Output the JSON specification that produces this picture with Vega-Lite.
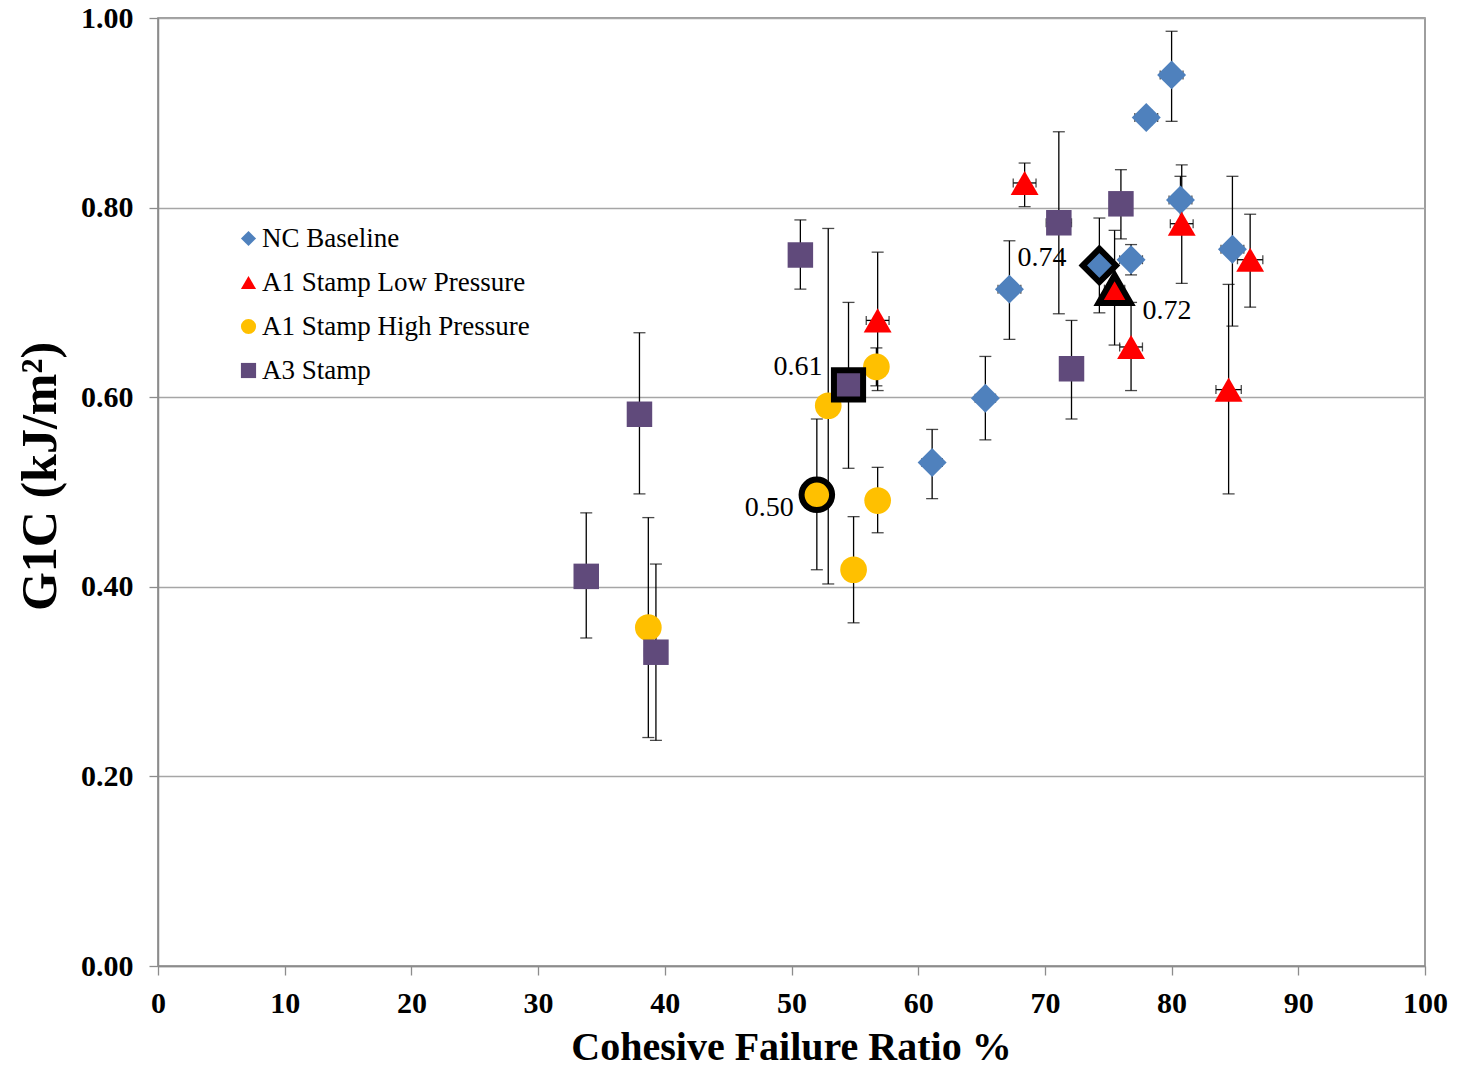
{
  "$schema": "https://vega.github.io/schema/vega-lite/v6.json",
  "width": 1267,
  "height": 948,
  "autosize": {"type": "none"},
  "padding": {"left": 158, "top": 18, "right": 33, "bottom": 104},
  "background": "white",
  "config": {
    "font": "Liberation Serif",
    "view": {"stroke": "#7f7f7f", "strokeWidth": 1.5},
    "axis": {
      "labelFont": "Liberation Serif",
      "labelFontWeight": "bold",
      "labelFontSize": 30,
      "labelColor": "black",
      "labelFlush": false,
      "titleFont": "Liberation Serif",
      "titleFontWeight": "bold",
      "titleColor": "black",
      "tickColor": "#8c8c8c",
      "domainColor": "#8c8c8c",
      "domainWidth": 1.5,
      "tickSize": 9,
      "tickWidth": 1.3
    }
  },
  "data": {
    "values": [
      {"s": "NC Baseline", "x": 80.0, "y": 0.940, "ylo": 0.891, "yhi": 0.986, "xlo": 79.1, "xhi": 80.9, "hl": 0, "lab": ""},
      {"s": "NC Baseline", "x": 78.0, "y": 0.895, "ylo": 0.887, "yhi": 0.903, "xlo": 77.1, "xhi": 78.9, "hl": 0, "lab": ""},
      {"s": "NC Baseline", "x": 80.7, "y": 0.808, "ylo": 0.783, "yhi": 0.833, "xlo": 79.8, "xhi": 81.6, "hl": 0, "lab": ""},
      {"s": "NC Baseline", "x": 84.8, "y": 0.756, "ylo": 0.675, "yhi": 0.833, "xlo": 83.9, "xhi": 85.7, "hl": 0, "lab": ""},
      {"s": "NC Baseline", "x": 76.8, "y": 0.745, "ylo": 0.729, "yhi": 0.761, "xlo": 75.9, "xhi": 77.7, "hl": 0, "lab": ""},
      {"s": "NC Baseline", "x": 74.3, "y": 0.739, "ylo": 0.689, "yhi": 0.789, "xlo": 73.5, "xhi": 75.1, "hl": 1, "lab": "0.74"},
      {"s": "NC Baseline", "x": 67.2, "y": 0.714, "ylo": 0.661, "yhi": 0.765, "xlo": 66.3, "xhi": 68.1, "hl": 0, "lab": ""},
      {"s": "NC Baseline", "x": 65.3, "y": 0.599, "ylo": 0.555, "yhi": 0.643, "xlo": 64.5, "xhi": 66.1, "hl": 0, "lab": ""},
      {"s": "NC Baseline", "x": 61.1, "y": 0.531, "ylo": 0.493, "yhi": 0.566, "xlo": 60.3, "xhi": 61.9, "hl": 0, "lab": ""},
      {"s": "A1 Stamp Low Pressure", "x": 68.4, "y": 0.826, "ylo": 0.801, "yhi": 0.847, "xlo": 67.5, "xhi": 69.3, "hl": 0, "lab": ""},
      {"s": "A1 Stamp Low Pressure", "x": 80.8, "y": 0.783, "ylo": 0.720, "yhi": 0.845, "xlo": 79.9, "xhi": 81.7, "hl": 0, "lab": ""},
      {"s": "A1 Stamp Low Pressure", "x": 86.2, "y": 0.745, "ylo": 0.695, "yhi": 0.793, "xlo": 85.2, "xhi": 87.2, "hl": 0, "lab": ""},
      {"s": "A1 Stamp Low Pressure", "x": 75.5, "y": 0.714, "ylo": 0.655, "yhi": 0.776, "xlo": 74.7, "xhi": 76.3, "hl": 1, "lab": "0.72"},
      {"s": "A1 Stamp Low Pressure", "x": 76.8, "y": 0.653, "ylo": 0.607, "yhi": 0.700, "xlo": 75.9, "xhi": 77.7, "hl": 0, "lab": ""},
      {"s": "A1 Stamp Low Pressure", "x": 56.8, "y": 0.681, "ylo": 0.607, "yhi": 0.753, "xlo": 55.9, "xhi": 57.7, "hl": 0, "lab": ""},
      {"s": "A1 Stamp Low Pressure", "x": 84.5, "y": 0.608, "ylo": 0.498, "yhi": 0.719, "xlo": 83.5, "xhi": 85.5, "hl": 0, "lab": ""},
      {"s": "A1 Stamp High Pressure", "x": 56.7, "y": 0.632, "ylo": 0.612, "yhi": 0.652, "xlo": 55.9, "xhi": 57.5, "hl": 0, "lab": ""},
      {"s": "A1 Stamp High Pressure", "x": 52.9, "y": 0.591, "ylo": 0.403, "yhi": 0.778, "xlo": 52.1, "xhi": 53.7, "hl": 0, "lab": ""},
      {"s": "A1 Stamp High Pressure", "x": 52.0, "y": 0.497, "ylo": 0.418, "yhi": 0.577, "xlo": 51.2, "xhi": 52.8, "hl": 1, "lab": "0.50"},
      {"s": "A1 Stamp High Pressure", "x": 56.8, "y": 0.491, "ylo": 0.457, "yhi": 0.526, "xlo": 56.0, "xhi": 57.6, "hl": 0, "lab": ""},
      {"s": "A1 Stamp High Pressure", "x": 54.9, "y": 0.418, "ylo": 0.362, "yhi": 0.474, "xlo": 54.1, "xhi": 55.7, "hl": 0, "lab": ""},
      {"s": "A1 Stamp High Pressure", "x": 38.7, "y": 0.357, "ylo": 0.241, "yhi": 0.473, "xlo": 37.9, "xhi": 39.5, "hl": 0, "lab": ""},
      {"s": "A3 Stamp", "x": 50.7, "y": 0.750, "ylo": 0.714, "yhi": 0.787, "xlo": 49.8, "xhi": 51.6, "hl": 0, "lab": ""},
      {"s": "A3 Stamp", "x": 71.1, "y": 0.784, "ylo": 0.688, "yhi": 0.880, "xlo": 70.1, "xhi": 72.1, "hl": 0, "lab": ""},
      {"s": "A3 Stamp", "x": 76.0, "y": 0.804, "ylo": 0.767, "yhi": 0.840, "xlo": 75.1, "xhi": 76.9, "hl": 0, "lab": ""},
      {"s": "A3 Stamp", "x": 72.1, "y": 0.630, "ylo": 0.577, "yhi": 0.681, "xlo": 71.2, "xhi": 73.0, "hl": 0, "lab": ""},
      {"s": "A3 Stamp", "x": 54.5, "y": 0.613, "ylo": 0.525, "yhi": 0.700, "xlo": 53.7, "xhi": 55.3, "hl": 1, "lab": "0.61"},
      {"s": "A3 Stamp", "x": 38.0, "y": 0.582, "ylo": 0.498, "yhi": 0.668, "xlo": 37.1, "xhi": 38.9, "hl": 0, "lab": ""},
      {"s": "A3 Stamp", "x": 33.8, "y": 0.411, "ylo": 0.346, "yhi": 0.478, "xlo": 32.9, "xhi": 34.7, "hl": 0, "lab": ""},
      {"s": "A3 Stamp", "x": 39.3, "y": 0.331, "ylo": 0.238, "yhi": 0.424, "xlo": 38.4, "xhi": 40.2, "hl": 0, "lab": ""}
    ]
  },
  "layer": [
    {
      "mark": {"type": "rule", "color": "black", "strokeWidth": 1.3},
      "encoding": {
        "x": {"field": "x", "type": "quantitative",
          "scale": {"domain": [0, 100], "nice": false, "zero": false},
          "axis": {"values": [0,10,20,30,40,50,60,70,80,90,100], "grid": false, "labelPadding": 13,
            "title": "Cohesive Failure Ratio %", "titleFontSize": 40, "titleBaseline": "alphabetic",
            "titleX": 633, "titleY": 93, "titleAlign": "center"}},
        "y": {"field": "ylo", "type": "quantitative",
          "scale": {"domain": [0, 1], "nice": false},
          "axis": {"values": [0, 0.2, 0.4, 0.6, 0.8, 1.0], "format": ".2f", "grid": true,
            "gridColor": "#a6a6a6", "gridWidth": 1.3, "labelPadding": 16,
            "title": "G1C (kJ/m²)", "titleFontSize": 50, "titleBaseline": "alphabetic",
            "titleX": -103, "titleY": 458, "titleAlign": "center", "titleAngle": 270}},
        "y2": {"field": "yhi"}
      }
    },
    {
      "mark": {"type": "tick", "orient": "horizontal", "size": 12, "thickness": 1.3, "color": "black"},
      "encoding": {
        "x": {"field": "x", "type": "quantitative"},
        "y": {"field": "ylo", "type": "quantitative"}
      }
    },
    {
      "mark": {"type": "tick", "orient": "horizontal", "size": 12, "thickness": 1.3, "color": "black"},
      "encoding": {
        "x": {"field": "x", "type": "quantitative"},
        "y": {"field": "yhi", "type": "quantitative"}
      }
    },
    {
      "mark": {"type": "rule", "color": "black", "strokeWidth": 1.3},
      "encoding": {
        "x": {"field": "xlo", "type": "quantitative"},
        "x2": {"field": "xhi"},
        "y": {"field": "y", "type": "quantitative"}
      }
    },
    {
      "mark": {"type": "tick", "orient": "vertical", "size": 9, "thickness": 1.3, "color": "black"},
      "encoding": {
        "x": {"field": "xlo", "type": "quantitative"},
        "y": {"field": "y", "type": "quantitative"}
      }
    },
    {
      "mark": {"type": "tick", "orient": "vertical", "size": 9, "thickness": 1.3, "color": "black"},
      "encoding": {
        "x": {"field": "xhi", "type": "quantitative"},
        "y": {"field": "y", "type": "quantitative"}
      }
    },
    {
      "transform": [{"filter": "datum.hl == 0"}],
      "mark": {"type": "point", "filled": true, "opacity": 1, "strokeWidth": 0},
      "encoding": {
        "x": {"field": "x", "type": "quantitative"},
        "y": {"field": "y", "type": "quantitative"},
        "color": {"field": "s", "type": "nominal",
          "scale": {"domain": ["NC Baseline", "A1 Stamp Low Pressure", "A1 Stamp High Pressure", "A3 Stamp"],
                    "range": ["#4f81bd", "#ff0000", "#ffc000", "#604a7b"]},
          "legend": {"title": null, "orient": "none", "legendX": 77, "legendY": 207,
            "labelFont": "Liberation Serif", "labelFontSize": 27, "labelColor": "black", "labelLimit": 500,
            "symbolSize": 230, "rowPadding": 16, "labelOffset": 0, "symbolStrokeWidth": 0, "symbolOpacity": 1}},
        "shape": {"field": "s", "type": "nominal",
          "scale": {"domain": ["NC Baseline", "A1 Stamp Low Pressure", "A1 Stamp High Pressure", "A3 Stamp"],
                    "range": ["diamond", "triangle-up", "circle", "square"]},
          "legend": {"title": null, "orient": "none", "legendX": 77, "legendY": 207,
            "labelFont": "Liberation Serif", "labelFontSize": 27, "labelColor": "black", "labelLimit": 500,
            "symbolSize": 230, "rowPadding": 16, "labelOffset": 0, "symbolStrokeWidth": 0, "symbolOpacity": 1}},
        "size": {"field": "s", "type": "nominal", "legend": null,
          "scale": {"domain": ["NC Baseline", "A1 Stamp Low Pressure", "A1 Stamp High Pressure", "A3 Stamp"],
                    "range": [840, 650, 640, 540]}}
      }
    },
    {
      "transform": [{"filter": "datum.hl == 1"}],
      "mark": {"type": "point", "filled": true, "opacity": 1, "stroke": "black", "strokeWidth": 6, "strokeJoin": "miter"},
      "encoding": {
        "x": {"field": "x", "type": "quantitative"},
        "y": {"field": "y", "type": "quantitative"},
        "color": {"field": "s", "type": "nominal"},
        "shape": {"field": "s", "type": "nominal"},
        "size": {"field": "s", "type": "nominal", "legend": null,
          "scale": {"domain": ["NC Baseline", "A1 Stamp Low Pressure", "A1 Stamp High Pressure", "A3 Stamp"],
                    "range": [1100, 850, 1000, 900]}}
      }
    },
    {
      "transform": [{"filter": "datum.lab == '0.74'"}],
      "mark": {"type": "text", "align": "right", "baseline": "middle", "dx": -33, "dy": -7, "fontSize": 28, "color": "black", "font": "Liberation Serif"},
      "encoding": {
        "x": {"field": "x", "type": "quantitative"},
        "y": {"field": "y", "type": "quantitative"},
        "text": {"field": "lab"}
      }
    },
    {
      "transform": [{"filter": "datum.lab == '0.72'"}],
      "mark": {"type": "text", "align": "left", "baseline": "middle", "dx": 28, "dy": 22, "fontSize": 28, "color": "black", "font": "Liberation Serif"},
      "encoding": {
        "x": {"field": "x", "type": "quantitative"},
        "y": {"field": "y", "type": "quantitative"},
        "text": {"field": "lab"}
      }
    },
    {
      "transform": [{"filter": "datum.lab == '0.61'"}],
      "mark": {"type": "text", "align": "right", "baseline": "middle", "dx": -26, "dy": -18, "fontSize": 28, "color": "black", "font": "Liberation Serif"},
      "encoding": {
        "x": {"field": "x", "type": "quantitative"},
        "y": {"field": "y", "type": "quantitative"},
        "text": {"field": "lab"}
      }
    },
    {
      "transform": [{"filter": "datum.lab == '0.50'"}],
      "mark": {"type": "text", "align": "right", "baseline": "middle", "dx": -23, "dy": 13, "fontSize": 28, "color": "black", "font": "Liberation Serif"},
      "encoding": {
        "x": {"field": "x", "type": "quantitative"},
        "y": {"field": "y", "type": "quantitative"},
        "text": {"field": "lab"}
      }
    }
  ],
  "resolve": {"scale": {"size": "independent"}}
}
